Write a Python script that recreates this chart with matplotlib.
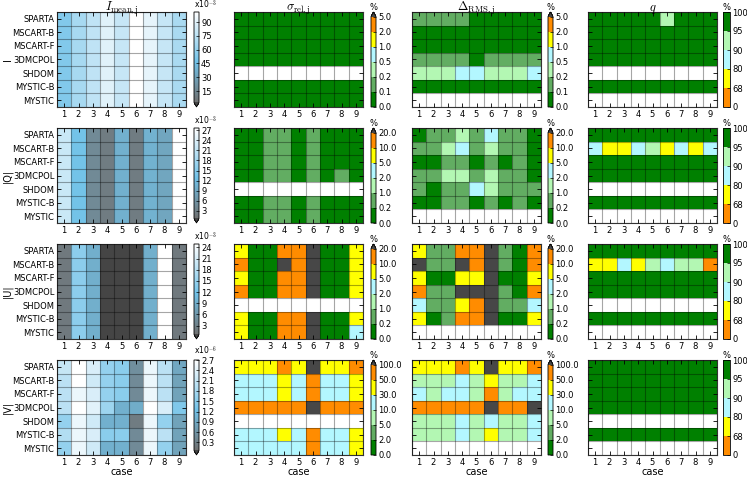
import numpy as np
import matplotlib
matplotlib.use('Agg')
import matplotlib.pyplot as plt
from matplotlib.colors import ListedColormap, BoundaryNorm, LinearSegmentedColormap, Normalize

plt.rcParams['mathtext.fontset'] = 'cm'

nan = np.nan

models = ['SPARTA', 'MSCART-B', 'MSCART-F', '3DMCPOL', 'SHDOM', 'MYSTIC-B', 'MYSTIC']
cases = [1, 2, 3, 4, 5, 6, 7, 8, 9]
stokes = ['I', '|Q|', '|U|', '|V|']
titles = [r'$I_{\rm mean,j}$', r'$\sigma_{\rm rel,j}$', r'$\Delta_{\rm RMS,j}$', r'$q$']

# mean values (in units of the scale shown above the colorbar)
I_mean = [[53, 67, 76, 89, 79, 101, 91, 79, 68],
          [53, 67, 76, 89, 79, 101, 91, 79, 68],
          [53, 67, 76, 89, 79, 101, 91, 79, 68],
          [53, 67, 76, 89, 79, 101, 91, 79, 68],
          [53, 67, 76, 89, 79, 101, 91, 79, 68],
          [53, 67, 76, 89, 79, 101, 91, 79, 68],
          [53, 67, 76, 89, 79, 101, 91, 79, 68]]
Q_mean = [[22, 13, 4.5, 2.5, 10.2, 2.5, 10.5, 8.8, 27.7],
          [22, 13, 4.5, 2.5, 10.2, 2.5, 10.5, 8.8, 27.7],
          [22, 13, 4.5, 2.5, 10.2, 2.5, 10.5, 8.8, 27.7],
          [22, 13, 4.5, 2.5, 10.2, 2.5, 10.5, 8.8, 27.7],
          [22, 13, 4.5, 2.5, 10.2, 2.5, 10.5, 8.8, 27.7],
          [22, 13, 4.5, 2.5, 10.2, 2.5, 10.5, 8.8, 27.7],
          [22, 13, 4.5, 2.5, 10.2, 2.5, 10.5, 8.8, 27.7]]
U_mean = [[1.9, 14, 9, 0.3, 0.3, 0.3, 9, 24.9, 1.9],
          [1.9, 14, 9, 0.3, 0.3, 0.3, 9, 24.9, 1.9],
          [1.9, 14, 9, 0.3, 0.3, 0.3, 9, 24.9, 1.9],
          [1.9, 14, 9, 0.3, 0.3, 0.3, 9, 24.9, 1.9],
          [1.9, 14, 9, 0.3, 0.3, 0.3, 9, 24.9, 1.9],
          [1.9, 14, 9, 0.3, 0.3, 0.3, 9, 24.9, 1.9],
          [1.9, 14, 9, 0.3, 0.3, 0.3, 9, 24.9, 1.9]]
V_mean = [[2.1, 2.75, 2.3, 1.6, 1.5, 0.52, 2.5, 2.0, 0.86],
          [2.0, 2.75, 2.2, 1.6, 1.5, 0.45, 2.5, 2.0, 0.80],
          [2.0, 2.5, 2.3, 1.6, 1.5, 0.45, 2.5, 2.0, 0.80],
          [2.0, 2.75, 2.4, 1.7, 1.0, 0.95, 2.75, 2.3, 1.4],
          [1.6, 2.5, 2.2, 1.0, 1.0, 0.25, 2.5, 1.6, 0.80],
          [1.9, 2.5, 2.3, 1.5, 1.5, 0.45, 2.5, 2.0, 0.80],
          [1.6, 2.5, 2.2, 1.0, 1.0, 0.45, 2.5, 1.6, 0.80]]
mean_vmax = [101, 27.7, 24.9, 2.7]
mean_ticks = [[15, 30, 45, 60, 75, 90],
              [3, 6, 9, 12, 15, 18, 21, 24, 27],
              [3, 6, 9, 12, 15, 18, 21, 24],
              [0.3, 0.6, 0.9, 1.2, 1.5, 1.8, 2.1, 2.4, 2.7]]
mean_scale = ['x10$^{-3}$', 'x10$^{-3}$', 'x10$^{-3}$', 'x10$^{-6}$']

# class boundaries (%) for sigma_rel and Delta_RMS
bins = [[0.0, 0.1, 0.2, 0.5, 1.0, 2.0, 5.0],
        [0.0, 0.2, 1.0, 2.0, 5.0, 10.0, 20.0],
        [0.0, 0.2, 1.0, 2.0, 5.0, 10.0, 20.0],
        [0.0, 2.0, 5.0, 10.0, 30.0, 50.0, 100.0]]
q_bins = [0, 68, 80, 90, 95, 100]

# relative standard deviation (%)
sig_I = [[0.05] * 9,
         [0.05] * 9,
         [0.05] * 9,
         [0.05] * 9,
         [nan] * 9,
         [0.05] * 9,
         [0.05] * 9]
sig_Q = [[0.1, 0.1, 0.6, 0.6, 0.1, 0.6, 0.1, 0.1, 0.1],
         [0.1, 0.1, 0.6, 0.6, 0.1, 0.6, 0.1, 0.1, 0.1],
         [0.1, 0.1, 0.6, 0.6, 0.1, 0.6, 0.1, 0.1, 0.1],
         [0.1, 0.1, 0.6, 0.6, 0.1, 0.6, 0.1, 0.6, 0.1],
         [nan] * 9,
         [0.1, 0.1, 0.6, 0.6, 0.1, 0.6, 0.1, 0.1, 0.1],
         [0.1, 0.1, 0.6, 0.6, 0.1, 0.6, 0.1, 0.1, 0.1]]
sig_U = [[7, 0.1, 0.1, 15, 15, 25, 0.1, 0.1, 7],
         [15, 0.1, 0.1, 25, 15, 25, 0.1, 0.1, 7],
         [7, 0.1, 0.1, 15, 15, 25, 0.1, 0.1, 7],
         [15, 0.1, 0.1, 15, 15, 25, 0.1, 0.1, 7],
         [nan] * 9,
         [7, 0.1, 0.1, 15, 15, 25, 0.1, 0.1, 7],
         [7, 0.1, 0.1, 15, 15, 25, 0.1, 0.1, 3]]
sig_V = [[40, 40, 40, 70, 40, 150, 40, 40, 70],
         [20, 20, 20, 40, 20, 70, 20, 20, 40],
         [20, 20, 20, 40, 20, 70, 20, 20, 40],
         [70, 70, 70, 70, 70, 150, 70, 70, 70],
         [nan] * 9,
         [20, 20, 20, 40, 20, 70, 20, 20, 40],
         [20, 20, 20, 20, 20, 70, 20, 20, 40]]

# RMS difference to MYSTIC (%)
rms_I = [[0.15, 0.15, 0.15, 0.15, 0.05, 0.05, 0.05, 0.05, 0.05],
         [0.05] * 9,
         [0.05] * 9,
         [0.15, 0.15, 0.15, 0.15, 0.05, 0.15, 0.15, 0.15, 0.15],
         [0.3, 0.3, 0.3, 0.7, 0.7, 0.3, 0.3, 0.3, 0.7],
         [0.05] * 9,
         [nan] * 9]
rms_Q = [[0.1, 0.6, 0.6, 1.5, 0.6, 3, 0.6, 0.6, 0.1],
         [0.6, 0.6, 1.5, 3, 0.6, 1.5, 0.6, 0.6, 0.1],
         [0.1, 0.1, 0.6, 0.6, 0.1, 0.6, 0.1, 0.6, 0.1],
         [0.6, 0.6, 1.5, 1.5, 0.6, 1.5, 0.6, 0.6, 0.1],
         [0.6, 0.1, 0.6, 0.6, 3, 1.5, 0.6, 0.6, 0.6],
         [0.1, 0.1, 0.6, 0.6, 0.1, 0.6, 0.1, 0.6, 0.1],
         [nan] * 9]
rms_U = [[7, 0.6, 0.6, 15, 15, 25, 0.6, 0.1, 15],
         [25, 0.6, 0.6, 25, 15, 25, 0.6, 0.1, 15],
         [7, 0.1, 0.1, 7, 7, 25, 0.1, 0.1, 7],
         [15, 0.6, 0.6, 25, 25, 25, 0.6, 0.1, 15],
         [3, 0.6, 0.6, 7, 15, 25, 0.6, 0.6, 3],
         [7, 0.1, 0.6, 15, 15, 25, 0.1, 0.1, 7],
         [nan] * 9]
rms_V = [[40, 40, 40, 70, 40, 150, 40, 40, 70],
         [7, 7, 7, 20, 7, 40, 7, 7, 20],
         [20, 7, 20, 20, 7, 70, 7, 20, 20],
         [70, 70, 70, 70, 70, 150, 70, 70, 150],
         [7, 7, 7, 20, 7, 20, 7, 7, 20],
         [7, 7, 7, 20, 7, 40, 7, 7, 20],
         [nan] * 9]

# agreement q (%)
q_I = [[99, 99, 99, 99, 99, 93, 99, 99, 99],
       [99] * 9, [99] * 9, [99] * 9, [nan] * 9, [99] * 9, [nan] * 9]
q_Q = [[99] * 9,
       [85, 75, 75, 85, 93, 75, 85, 75, 85],
       [99] * 9, [99] * 9, [nan] * 9, [99] * 9, [nan] * 9]
q_U = [[99] * 9,
       [75, 75, 85, 75, 93, 85, 93, 93, 50],
       [99] * 9, [99] * 9, [nan] * 9, [99] * 9, [nan] * 9]
q_V = [[99] * 9, [99] * 9, [99] * 9, [99] * 9, [nan] * 9, [99] * 9, [nan] * 9]

means = [I_mean, Q_mean, U_mean, V_mean]
sigmas = [sig_I, sig_Q, sig_U, sig_V]
rmss = [rms_I, rms_Q, rms_U, rms_V]
qs = [q_I, q_Q, q_U, q_V]

# colour maps
dgreen, mgreen, lgreen = '#008000', '#62ad62', '#b3f7b3'
lcyan, yellow, orange = '#b3f7ff', '#ffff00', '#ff8c00'
cm_mean = LinearSegmentedColormap.from_list('mean', [(0, '#707070'), (0.45, '#72c2e8'), (1, 'white')])
cm_mean.set_under('#454545')
cm_mean.set_bad('white')
cm_pct = ListedColormap([dgreen, mgreen, lgreen, lcyan, yellow, orange])
cm_pct.set_over('#474747')
cm_pct.set_bad('white')
cm_q = ListedColormap([orange, yellow, lcyan, lgreen, dgreen])
cm_q.set_bad('white')

W, H = 747, 479
fig = plt.figure(figsize=(W / 100, H / 100), dpi=100)

def px(l, t, w, h):
    return [l / W, 1 - (t + h) / H, w / W, h / H]

ax_left = [57, 234, 412, 588]
cb_left = [194, 371, 548, 723]
cb_w = [5, 5, 5, 7]
xe = np.arange(0.5, 10, 1)
ye = np.arange(-0.5, 7, 1)

for r in range(4):
    top = 12 + 116 * r
    hh = 95
    pn = BoundaryNorm(bins[r], ncolors=6)
    panels = [
        (np.array(means[r], float), cm_mean, Normalize(mean_vmax[r] / 40.0, mean_vmax[r]), 'min'),
        (np.array(sigmas[r], float), cm_pct, pn, 'max'),
        (np.array(rmss[r], float), cm_pct, pn, 'max'),
        (np.array(qs[r], float), cm_q, BoundaryNorm(q_bins, ncolors=5), 'neither'),
    ]
    for c, (data, cmap, norm, ext) in enumerate(panels):
        ax = fig.add_axes(px(ax_left[c], top, 129, hh))
        m = ax.pcolormesh(xe, ye, np.ma.masked_invalid(data), cmap=cmap, norm=norm)
        ax.set_xlim(0.5, 9.5)
        ax.set_ylim(6.5, -0.5)
        ax.set_xticks(cases)
        ax.set_yticks(range(7))
        ax.set_xticks(xe, minor=True)
        ax.set_yticks(ye, minor=True)
        ax.grid(which='minor', color='k', alpha=0.35, lw=0.8)
        ax.set_axisbelow(False)
        ax.tick_params(which='minor', length=0)
        ax.tick_params(which='major', direction='in', top=True, right=True,
                       length=3, width=0.6, labelsize=6, pad=2)
        if c == 0:
            ax.set_yticklabels(models)
        else:
            ax.set_yticklabels([])
        for s in ax.spines.values():
            s.set_linewidth(0.8)
            s.set_color('#333333')
        if r == 0:
            ax.set_title(titles[c], fontsize=9, pad=0.5)
        if r == 3:
            ax.set_xlabel('case', fontsize=7, labelpad=0)

        cax = fig.add_axes(px(cb_left[c], top, cb_w[c], hh))
        if c == 0:
            cb = fig.colorbar(m, cax=cax, extend=ext, ticks=mean_ticks[r])
            cb.ax.set_yticklabels(['%g' % t for t in mean_ticks[r]])
            cax.set_title(mean_scale[r], fontsize=5.5, pad=4 if r == 3 else 2.5, loc='left')
        elif c < 3:
            cb = fig.colorbar(m, cax=cax, extend=ext, ticks=bins[r], spacing='uniform')
            cb.ax.set_yticklabels(['%.1f' % t for t in bins[r]])
            cax.set_title('%', fontsize=6, pad=1.5)
        else:
            cb = fig.colorbar(m, cax=cax, ticks=q_bins, spacing='uniform')
            cb.ax.set_yticklabels(['%d' % t for t in q_bins])
            cax.set_title('%', fontsize=6, pad=-1)
        cb.outline.set_linewidth(0.6)
        cax.tick_params(direction='in', length=2, width=0.5, labelsize=6, pad=1.5)

    fig.text(8 / W, 1 - (top + hh / 2) / H, stokes[r], rotation=90,
             ha='center', va='center', fontsize=7)

fig.savefig('out.png', dpi=100)
